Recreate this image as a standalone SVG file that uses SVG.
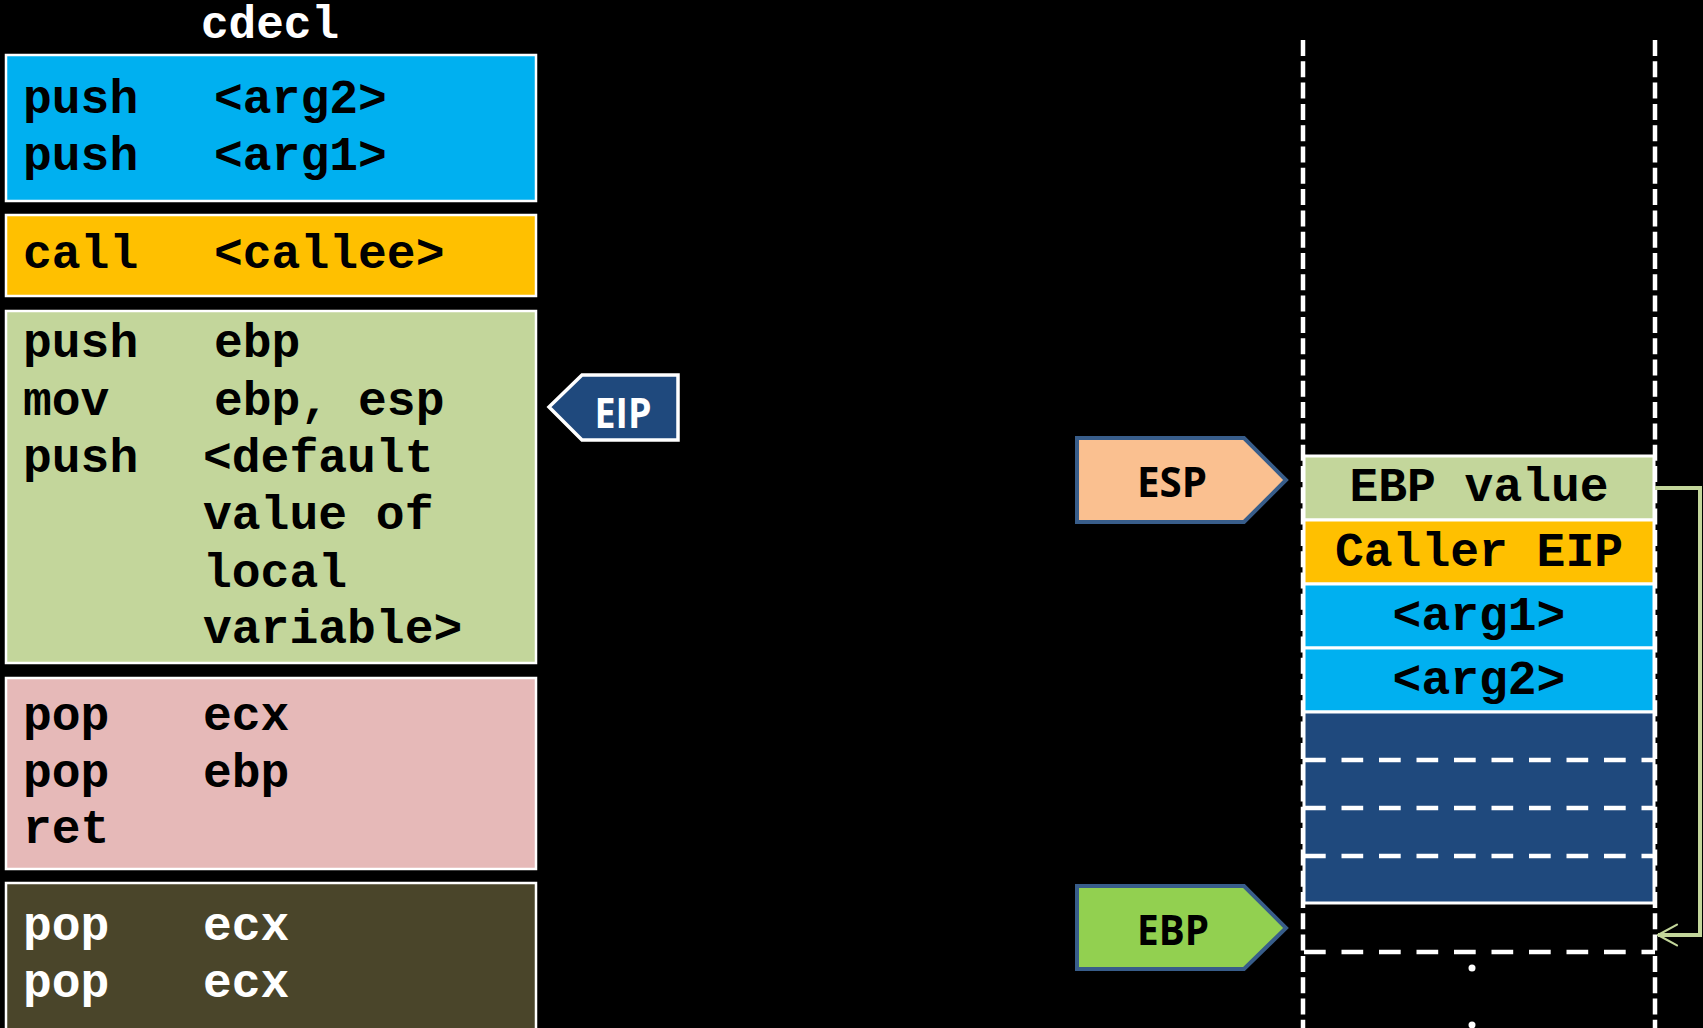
<svg xmlns="http://www.w3.org/2000/svg" width="1703" height="1028" viewBox="0 0 1703 1028">
<style>
.code{font-family:"Liberation Mono","Courier New",monospace;font-weight:bold;font-size:48px;fill:#000}
.wcode{font-family:"Liberation Mono","Courier New",monospace;font-weight:bold;font-size:48px;fill:#fff}
.box{stroke:#fff;stroke-width:2.5}
.cell{stroke:#fff;stroke-width:3}
.reg{font-family:"Open Sans","Noto Sans",sans-serif;font-weight:bold;font-size:42px;text-anchor:middle}
.tag{stroke:#385D8A;stroke-width:4;stroke-linejoin:miter}
.vd{stroke:#fff;stroke-width:4.5;stroke-dasharray:16 5.3;fill:none}
.hd{stroke:#fff;stroke-width:4.5;stroke-dasharray:21.7 15.8;fill:none}
.mid{text-anchor:middle}
</style>
<defs>
<marker id="openArrow" viewBox="0 0 12 12" refX="11" refY="6" markerWidth="6" markerHeight="6" orient="auto" markerUnits="strokeWidth">
<path d="M1.5 0.8 L11 6 L1.5 11.2" fill="none" stroke="#C3D69B" stroke-width="1.1" stroke-linecap="round" stroke-linejoin="round"/>
</marker>
</defs>
<rect x="0" y="0" width="1703" height="1028" fill="#000"/>

<text id="title" x="270" y="38" class="wcode" text-anchor="middle" style="font-size:46px">cdecl</text>

<g id="push-args">
<rect x="6" y="55" width="530" height="146" fill="#00B0F0" class="box"/>
<text class="code" x="23" y="113">push</text><text class="code" x="214" y="113">&lt;arg2&gt;</text>
<text class="code" x="23" y="170">push</text><text class="code" x="214" y="170">&lt;arg1&gt;</text>
</g>

<g id="call">
<rect x="6" y="215" width="530" height="81" fill="#FFC000" class="box"/>
<text class="code" x="23" y="268">call</text><text class="code" x="214" y="268">&lt;callee&gt;</text>
</g>

<g id="prologue">
<rect x="6" y="311" width="530" height="352" fill="#C3D69B" class="box"/>
<text class="code" x="23" y="357">push</text><text class="code" x="214" y="357">ebp</text>
<text class="code" x="23" y="415">mov</text><text class="code" x="214" y="415">ebp, esp</text>
<text class="code" x="23" y="472">push</text><text class="code" x="203" y="472">&lt;default</text>
<text class="code" x="203" y="529">value of</text>
<text class="code" x="203" y="587">local</text>
<text class="code" x="203" y="643">variable&gt;</text>
</g>

<g id="epilogue">
<rect x="6" y="678" width="530" height="191" fill="#E6B9B8" class="box"/>
<text class="code" x="23" y="730">pop</text><text class="code" x="203" y="730">ecx</text>
<text class="code" x="23" y="787">pop</text><text class="code" x="203" y="787">ebp</text>
<text class="code" x="23" y="843">ret</text>
</g>

<g id="cleanup">
<rect x="6" y="883" width="530" height="170" fill="#4A452A" class="box"/>
<text class="wcode" x="23" y="940">pop</text><text class="wcode" x="203" y="940">ecx</text>
<text class="wcode" x="23" y="997">pop</text><text class="wcode" x="203" y="997">ecx</text>
</g>

<g id="eip">
<polygon points="549,407 582,375 678,375 678,440 582,440" fill="#1F497D" stroke="#fff" stroke-width="3.5"/>
<text class="reg" x="623" y="428" fill="#fff" textLength="57" lengthAdjust="spacingAndGlyphs">EIP</text>
</g>

<g id="stack-frame">
<line x1="1303" y1="40" x2="1303" y2="1028" class="vd"/>
<line x1="1655" y1="40" x2="1655" y2="1028" class="vd"/>
</g>

<g id="stack-ebp-value">
<rect x="1304" y="456" width="350" height="64" fill="#C3D69B" class="cell"/>
<text class="code mid" x="1479" y="501">EBP value</text>
</g>
<g id="stack-caller-eip">
<rect x="1304" y="520" width="350" height="64" fill="#FFC000" class="cell"/>
<text class="code mid" x="1479" y="566">Caller EIP</text>
</g>
<g id="stack-arg1">
<rect x="1304" y="584" width="350" height="64" fill="#00B0F0" class="cell"/>
<text class="code mid" x="1479" y="630">&lt;arg1&gt;</text>
</g>
<g id="stack-arg2">
<rect x="1304" y="648" width="350" height="64" fill="#00B0F0" class="cell"/>
<text class="code mid" x="1479" y="694">&lt;arg2&gt;</text>
</g>
<g id="stack-caller-frame">
<rect x="1304" y="712" width="350" height="191" fill="#1F497D" class="cell"/>
<line x1="1304" y1="760" x2="1654" y2="760" class="hd"/>
<line x1="1304" y1="808" x2="1654" y2="808" class="hd"/>
<line x1="1304" y1="856" x2="1654" y2="856" class="hd"/>
</g>
<g id="stack-saved-ebp-slot">
<line x1="1304" y1="952" x2="1655" y2="952" class="hd"/>
<circle cx="1472" cy="968" r="3.5" fill="#fff"/>
<circle cx="1472" cy="1025" r="3.5" fill="#fff"/>
</g>

<g id="esp">
<polygon points="1077,438 1244,438 1286,480 1244,522 1077,522" fill="#FAC090" class="tag"/>
<text class="reg" x="1172" y="497" fill="#000" textLength="70" lengthAdjust="spacingAndGlyphs">ESP</text>
</g>
<g id="ebp">
<polygon points="1077,886 1244,886 1286,928 1244,969 1077,969" fill="#92D050" class="tag"/>
<text class="reg" x="1173" y="945" fill="#000" textLength="72" lengthAdjust="spacingAndGlyphs">EBP</text>
</g>

<g id="connectors">
<polyline points="1655,488 1700,488 1700,935 1658,935" fill="none" stroke="#C3D69B" stroke-width="4" marker-end="url(#openArrow)"/>
</g>
</svg>
